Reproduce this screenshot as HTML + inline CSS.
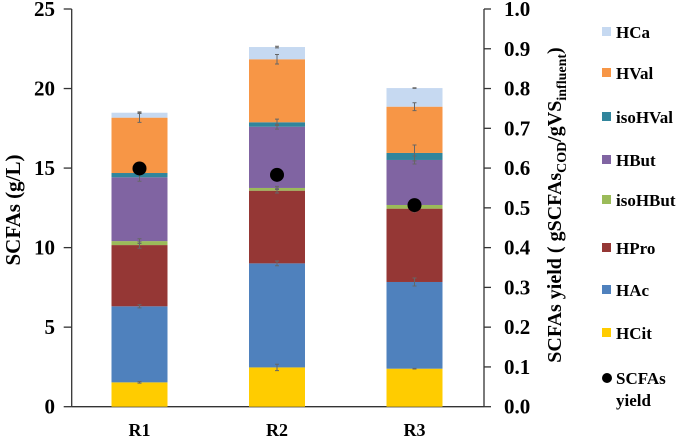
<!DOCTYPE html>
<html><head><meta charset="utf-8"><style>
body{margin:0;background:#fff}
svg, svg text, svg tspan{font-family:"Liberation Serif","DejaVu Serif","Times New Roman",serif !important;font-weight:bold}
svg text{fill:#000}
</style></head><body>
<svg id="chart" width="685" height="437" viewBox="0 0 685 437" xmlns="http://www.w3.org/2000/svg" font-family="Liberation Serif, serif">
<g id="axes"></g><g id="bars"></g><g id="dots"></g><g id="legend"></g>
</svg>
<script>
const categories=["R1","R2","R3"];
const seriesNames=["HCit","HAc","HPro","isoHBut","HBut","isoHVal","HVal","HCa"];
const seriesColors=["#ffcc00","#4f81bd","#953735","#9bbb59","#8064a2","#31859c","#f79646","#c6d9f1"];
const hcit=[1.53,2.47,2.39];
const hac=[4.78,6.54,5.45];
const hpro=[3.85,4.57,4.61];
const isohbut=[0.25,0.17,0.23];
const hbut=[4.01,3.85,2.83];
const isohval=[0.27,0.28,0.44];
const hval=[3.48,3.96,2.91];
const hca=[0.31,0.77,1.17];
const errs=[[0.05,0.2,0.02],[0.1,0.15,0.25],[0.2,0.15,0.2],[0.15,0.1,0.15],[0.25,0.15,0.25],[0.05,0.2,0.5],[0.3,0.3,0.25],[0.05,0.05,0.02]];
const yieldVals=[0.599,0.583,0.507];
const leftTicks=[0,5,10,15,20,25];
const rightTicks=["0.0","0.1","0.2","0.3","0.4","0.5","0.6","0.7","0.8","0.9","1.0"];
const series=[hcit,hac,hpro,isohbut,hbut,isohval,hval,hca];
const NS="http://www.w3.org/2000/svg";
const x0=71.7,x1=484,yb=406.7,yt=9;
const y=v=>yb-(v/25)*(yb-yt);
const yr=v=>yb-v*(yb-yt);
const xc=i=>139.5+i*137.5;
const bw=56;
const FF="Liberation Serif, DejaVu Serif, serif";
function mk(t,a,p,txt){const e=document.createElementNS(NS,t);for(const k in a)e.setAttribute(k,a[k]);if(t==="text"){e.setAttribute("font-family",FF);e.setAttribute("font-weight","bold");}if(txt!==undefined)e.textContent=txt;document.getElementById(p).appendChild(e);return e;}
let e=mk("line",{x1:x0,y1:yt,x2:x0,y2:yb,stroke:"#333","stroke-width":1.3},"axes");


e=mk("line",{x1:x1,y1:yt,x2:x1,y2:yb,stroke:"#333","stroke-width":1.3},"axes");


e=mk("line",{x1:x0,y1:yb,x2:x1,y2:yb,stroke:"#333","stroke-width":1.3},"axes");


leftTicks.forEach(t=>{mk("line",{x1:x0-8,y1:y(t),x2:x0,y2:y(t),stroke:"#333","stroke-width":1.3},"axes");
 e=mk("text",{x:55,y:y(t)+7,"text-anchor":"end","font-size":21},"axes",t);
 
 });
rightTicks.forEach(t=>{const v=parseFloat(t);mk("line",{x1:x1,y1:yr(v),x2:x1+7,y2:yr(v),stroke:"#333","stroke-width":1.3},"axes");
 e=mk("text",{x:504,y:yr(v)+7,"font-size":21},"axes",t);
 
 });
e=mk("text",{x:0,y:0,"font-size":21,"text-anchor":"middle",transform:"translate(20,210) rotate(-90)"},"axes","SCFAs  (g/L)");


e=mk("text",{x:0,y:0,"font-size":20,"text-anchor":"middle",transform:"translate(561,205) rotate(-90)"},"axes");
e.innerHTML='SCFAs yield ( gSCFAs<tspan font-size="14" dy="5">COD</tspan><tspan dy="-5">/gVS</tspan><tspan font-size="14" dy="5">influent</tspan><tspan dy="-5">)</tspan>';


categories.forEach((c,i)=>{e=mk("text",{x:xc(i),y:436,"text-anchor":"middle","font-size":18},"axes",c);
 
 });
categories.forEach((c,i)=>{let base=0;
 series.forEach((s,k)=>{const top=base+s[i];
  const r=mk("rect",{x:xc(i)-bw/2,y:y(top),width:bw,height:y(base)-y(top),fill:seriesColors[k]},"bars");
  
  
  base=top;});
 base=0;
 series.forEach((s,k)=>{const top=base+s[i];const er=errs[k][i];
  const g=mk("path",{d:`M${xc(i)},${y(top+er)}V${y(top-er)}M${xc(i)-2},${y(top+er)}h4M${xc(i)-2},${y(top-er)}h4`,stroke:"#666","stroke-width":1,fill:"none"},"bars");
  
  
  base=top;});
});
yieldVals.forEach((v,i)=>{e=mk("circle",{cx:xc(i),cy:yr(v),r:7,fill:"#000"},"dots");
 
 });
const ly=[32,73,117,160,200,248,290,333];
for(let k=7;k>=0;k--){const yy=ly[7-k];
 e=mk("rect",{x:602,y:yy-5,width:9,height:9,fill:seriesColors[k]},"legend");
 
 
 e=mk("text",{x:616,y:yy+6,"font-size":17},"legend",seriesNames[k]);
 
 }
e=mk("circle",{cx:607,cy:378,r:5,fill:"#000"},"legend");


e=mk("text",{x:616,y:384,"font-size":17},"legend","SCFAs");


e=mk("text",{x:616,y:406,"font-size":17},"legend","yield");


</script>
</body></html>
